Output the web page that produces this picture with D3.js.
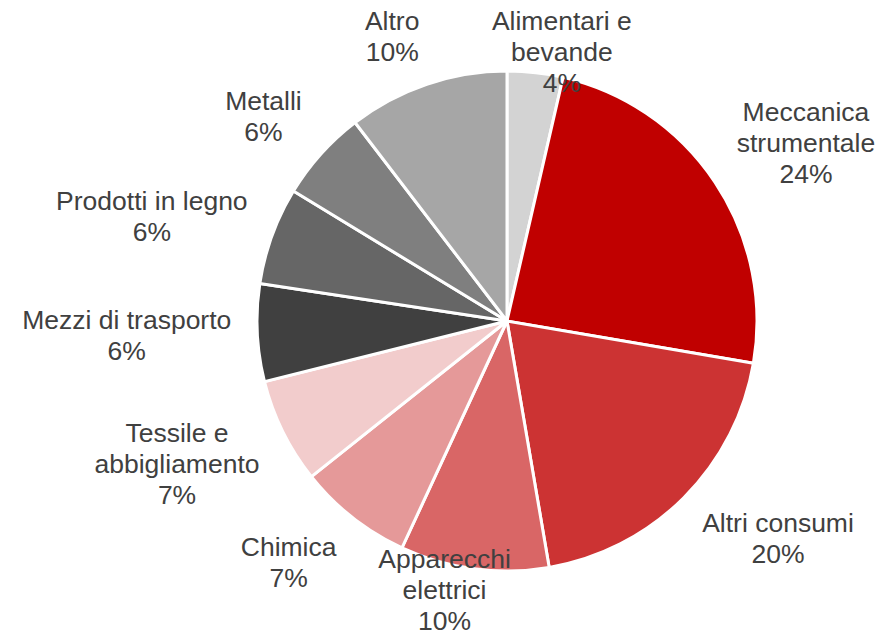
<!DOCTYPE html>
<meta charset="utf-8">
<style>
    body { margin: 0; background: #fff; }
    .label text {
        font: 26.5px "Liberation Sans", Arial, sans-serif;
        fill: #404040;
    }
    .slice path {
        stroke: #fff;
        stroke-width: 3px;
    }
</style>
<svg class="chart"></svg>
<script src="https://d3js.org/d3.v7.min.js"></script>
<script>

    // clockwise from 12 o'clock
    var categories = ["Alimentari e\nbevande", "Meccanica\nstrumentale", "Altri consumi",
        "Apparecchi\nelettrici", "Chimica", "Tessile e\nabbigliamento", "Mezzi di trasporto",
        "Prodotti in legno", "Metalli", "Altro"];
    var shares = [3.6, 24.1, 19.6, 9.6, 7.4, 6.8, 6.3, 6.3, 5.9, 10.4];
    var colors = ["#d3d3d3", "#c00000", "#cc3333", "#d96666", "#e59999",
        "#f2cccc", "#404040", "#666666", "#7f7f7f", "#a6a6a6"];

    var width = 894,
        height = 638,
        cx = 507,
        cy = 321,
        radius = 250,
        gap = 26,
        lineH = 31;

    var data = categories.map(function (c, i) {
        return {name: c, value: shares[i], color: colors[i]};
    });

    var svg = d3.select(".chart")
        .attr("width", width)
        .attr("height", height);

    var chart = svg.append("g")
        .attr("transform", "translate(" + cx + "," + cy + ")");

    var pie = d3.pie()
        .sort(null)
        .value(function (d) { return d.value; });

    var arc = d3.arc()
        .innerRadius(0)
        .outerRadius(radius);

    var arcs = pie(data);

    chart.selectAll(".slice")
        .data(arcs)
        .enter().append("g")
        .attr("class", "slice")
        .append("path")
        .attr("d", arc)
        .attr("fill", function (d) { return d.data.color; });

    var label = chart.selectAll(".label")
        .data(arcs)
        .enter().append("g")
        .attr("class", "label");

    label.each(function (d) {
        var g = d3.select(this);
        var lines = d.data.name.split("\n").concat([Math.round(d.data.value) + "%"]);
        var text = g.append("text").attr("text-anchor", "middle");
        var tspans = lines.map(function (l) {
            return text.append("tspan").text(l);
        });
        var w = d3.max(tspans, function (t) { return t.node().getComputedTextLength(); });
        var h = lines.length * lineH;

        var a = (d.startAngle + d.endAngle) / 2;
        var ux = Math.sin(a), uy = -Math.cos(a);
        var px = (radius + gap) * ux + w / 2 * Math.max(-1, Math.min(1, ux * 3));
        var py = (radius + gap) * uy + h / 2 * uy;

        // keep the block inside the picture
        var top = cy + py - h / 2;
        if (top < 5) py += 5 - top;
        var bottom = cy + py + h / 2;
        if (bottom > 636) py -= bottom - 636;

        tspans.forEach(function (t, i) {
            t.attr("x", px)
                .attr("y", py - h / 2 + lineH / 2 + i * lineH)
                .attr("dy", "0.35em");
        });
    });

</script>
